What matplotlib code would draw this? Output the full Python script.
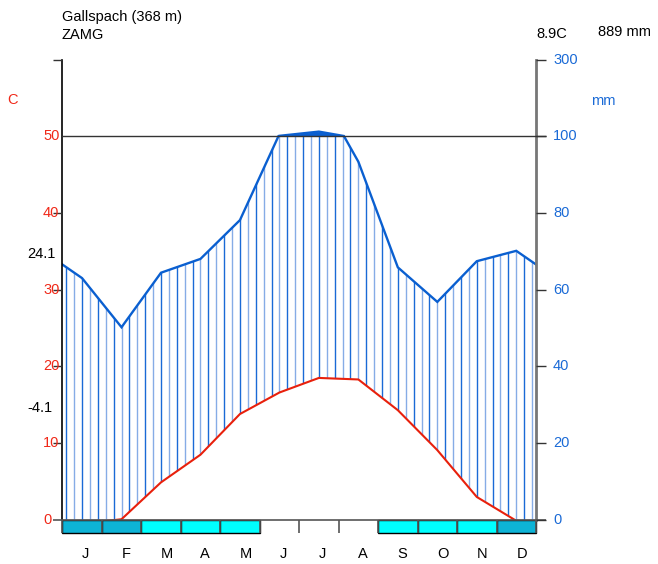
import numpy as np
import matplotlib.pyplot as plt
from matplotlib.patches import Rectangle, Polygon

# Klimadiagramm Gallspach (ZAMG)
months = ['J', 'F', 'M', 'A', 'M', 'J', 'J', 'A', 'S', 'O', 'N', 'D']
temp = [-0.5, 0.1, 4.9, 8.5, 13.8, 16.6, 18.5, 18.3, 14.3, 9.1, 3.0, -0.1]
prec = [63.0, 50.2, 64.4, 68.0, 78.1, 100.5, 111.6, 93.3, 65.8, 56.8, 67.4, 70.1]
# Frostbalken: 2 = dunkel, 1 = hell, 0 = keiner
frost = [2, 2, 1, 1, 1, 0, 0, 0, 1, 1, 1, 2]
temp_ticks = [0, 10, 20, 30, 40, 50]
prec_ticks = [0, 20, 40, 60, 80, 100, 300]
station = 'Gallspach (368 m)'
source = 'ZAMG'
t_year = '8.9C'
p_year = '889 mm'
t_max = '24.1'
t_min = '-4.1'

W, H = 658, 564
RED = '#f02818'
BLUE = '#1a6ad6'
LBLUE = '#86ace6'
plt.rcParams['font.family'] = ['Liberation Sans', 'DejaVu Sans']
FS = 10.5

K = 9.9 / 200  # oberhalb 100 mm gestaucht


def mm2y(v):
    v = np.asarray(v, float)
    return np.where(v <= 100, v / 2, 50 + (v - 100) * K)


def cross(x, v, lvl=100):
    # Schnittpunkte mit 100 mm einfuegen, damit der Knick stimmt
    xs, vs = [x[0]], [v[0]]
    for i in range(1, len(x)):
        a, b = v[i - 1], v[i]
        if (a - lvl) * (b - lvl) < 0:
            f = (lvl - a) / (b - a)
            xs.append(x[i - 1] + f * (x[i] - x[i - 1]))
            vs.append(lvl)
        xs.append(x[i])
        vs.append(v[i])
    return np.array(xs), np.array(vs)


YTOP = float(mm2y(300))
fig = plt.figure(figsize=(W / 100, H / 100), dpi=100)
x0, x1, yb, yt = 62.3, 536.0, 520.0, 60.0
ax = fig.add_axes([x0 / W, 1 - yb / H, (x1 - x0) / W, (yb - yt) / H])
ax.set_xlim(0, 12)
ax.set_ylim(0, YTOP)
ax.axis('off')
pxx = (x1 - x0) / 12
pxy = (yb - yt) / YTOP


def dx(p):
    return p / pxx


def dy(p):
    return p / pxy


xm = [0] + [i + 0.5 for i in range(12)] + [12]
p_ext = [(prec[-1] + prec[0]) / 2] + prec + [(prec[-1] + prec[0]) / 2]
t_ext = [(temp[-1] + temp[0]) / 2] + temp + [(temp[-1] + temp[0]) / 2]
px_, pv = cross(xm, p_ext)
py = mm2y(pv)
ty = np.array(t_ext)

# Schraffur (humid)
verts = list(zip(px_, np.minimum(py, 50))) + list(zip(xm[::-1], ty[::-1]))
clip = Polygon(verts, closed=True, fc='none', ec='none')
ax.add_patch(clip)
hx = (np.arange(60) + 0.5) / 5
cols = [BLUE if i % 2 == 0 else LBLUE for i in range(60)]
vl = ax.vlines(hx, 0, 50, colors=cols, lw=1.0)
vl.set_clip_path(clip)

# ueber 100 mm
ax.fill_between(px_, 50, py, where=py >= 50, interpolate=True, color='#0a5fd0', lw=0)

# Linien
ax.plot(px_, py, color='#0a5fd0', lw=1.7, solid_joinstyle='miter')
ax.plot(xm, ty, color='#e8200c', lw=1.5)

# Achsen
ax.plot([0, 0], [0, YTOP], color='black', lw=1.2, clip_on=False)
ax.plot([12, 12], [0, YTOP], color='#777777', lw=2.0, clip_on=False)
ax.hlines(50, 0, 12 + dx(10), color='#333333', lw=1.0, clip_on=False)
ax.hlines(0, -dx(9.5), 12 + dx(10), color='#555555', lw=1.2, clip_on=False)
ax.hlines([10, 20, 30, 40, YTOP], -dx(9), 0, color='#333333', lw=1.0, clip_on=False)
for t in temp_ticks:
    ax.text(-dx(19.3), t, str(t), color=RED, fontsize=FS, ha='left', va='center')
for p in prec_ticks:
    ax.hlines(float(mm2y(p)), 12, 12 + dx(10), color='#333333', lw=1.0, clip_on=False)
    ax.text(12 + dx(17), float(mm2y(p)), str(p), color=BLUE, fontsize=FS,
            ha='left', va='center')

# Frostbalken
bh = dy(12.5)
ax.vlines(np.arange(13), -bh, 0, color='#555555', lw=1.2, clip_on=False)
for i, f in enumerate(frost):
    if f:
        c = '#0db3d6' if f == 2 else '#00ffff'
        ax.add_patch(Rectangle((i, -bh), 1, bh, fc=c, ec='black', lw=1.0, clip_on=False))
for i, m in enumerate(months):
    ax.text(i + 0.5, -dy(34), m, fontsize=FS, ha='left', va='center')


def ft(x, y, s, **kw):
    fig.text(x / W, 1 - y / H, s, fontsize=FS, ha='left', va='center', **kw)


ft(62, 17, station)
ft(62, 35, source)
ft(536, 34, t_year)
ft(598, 32, p_year)
ft(7, 100, 'C', color=RED)
ft(591, 101, 'mm', color=BLUE)
ft(27, 254, t_max)
ft(27, 408, t_min)

fig.savefig('out.png', dpi=100)
